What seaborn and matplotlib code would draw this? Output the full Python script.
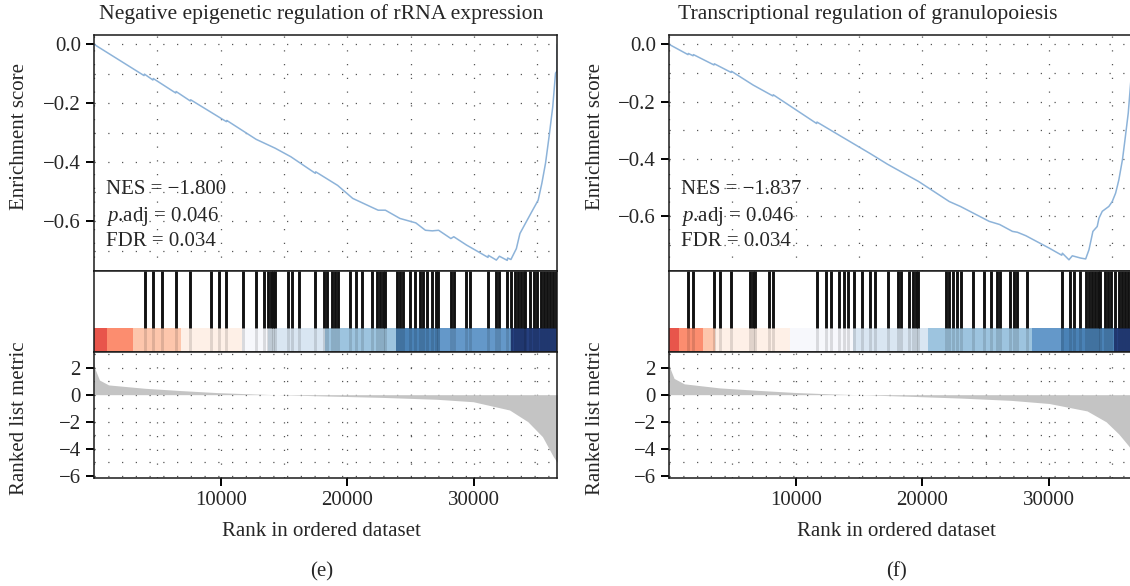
import numpy as np
import pandas as pd
import matplotlib
matplotlib.use("Agg")
import matplotlib.pyplot as plt
import seaborn as sns
from matplotlib.ticker import MultipleLocator, FixedLocator

# ---------------- data ----------------
N_GENES = 36570
titles = ["Negative epigenetic regulation of rRNA expression",
          "Transcriptional regulation of granulopoiesis"]
panel_tags = ["(e)", "(f)"]
nes_vals = ["\u22121.800", "\u22121.837"]
padj_vals = ["0.046", "0.046"]
fdr_vals = ["0.034", "0.034"]

es_rank_e = [0, 3950, 3980, 4650, 4680, 6450, 6480, 7600, 7630, 9800, 10450, 10480,
             12800, 14300, 15540, 17470, 17500, 19230, 20420, 21970, 22430, 23000,
             24150, 25400, 26160, 26700, 27200, 28170, 28400, 29400, 29890, 31100,
             31130, 31760, 32000, 32620, 32650, 32910, 33340, 33620, 33910, 34480,
             35060, 35350, 35640, 35920, 36210, 36430, 36560, 36570]
es_score_e = [0.0, -0.106, -0.101, -0.121, -0.116, -0.165, -0.160, -0.192, -0.188, -0.245,
              -0.262, -0.258, -0.322, -0.352, -0.381, -0.437, -0.432, -0.478, -0.522,
              -0.553, -0.562, -0.562, -0.590, -0.605, -0.630, -0.632, -0.630, -0.658,
              -0.652, -0.680, -0.692, -0.722, -0.715, -0.731, -0.718, -0.732, -0.724,
              -0.729, -0.692, -0.641, -0.618, -0.573, -0.528, -0.471, -0.403, -0.313,
              -0.212, -0.098, -0.090, 0.0]

es_rank_f = [0, 1500, 1530, 1900, 1930, 3550, 3580, 4900, 4930, 6640, 8200, 8230,
             11650, 11680, 13400, 15850, 17250, 18350, 19700, 22125, 23000, 25275,
             26100, 27110, 27500, 28165, 30000, 31000, 31050, 31570, 31835, 32500,
             32890, 33150, 33460, 33800, 33940, 34200, 34720, 34985, 35250, 35380,
             35510, 35800, 36000, 36250, 36450, 36570]
es_score_f = [0.0, -0.036, -0.032, -0.040, -0.036, -0.072, -0.068, -0.098, -0.094, -0.142,
              -0.180, -0.176, -0.276, -0.271, -0.316, -0.380, -0.418, -0.445, -0.478,
              -0.548, -0.565, -0.617, -0.628, -0.652, -0.655, -0.667, -0.710, -0.735,
              -0.728, -0.751, -0.737, -0.745, -0.748, -0.716, -0.652, -0.635, -0.606,
              -0.582, -0.565, -0.548, -0.519, -0.496, -0.472, -0.400, -0.330, -0.240,
              -0.130, 0.0]

hits_e = [4000, 4683, 5393, 6499, 7604, 9261, 9893, 10445, 11787, 12813, 13444,
          13750, 13950, 14150, 14300, 15312, 15628, 16207, 17470, 18150, 18380,
          18800, 19000, 19230, 20232, 20706, 21180, 21969, 22350, 22550, 22800,
          23000, 23900, 24150, 24420, 24968, 25363, 25730, 25950, 26257, 26678,
          26970, 27180, 28180, 28400, 29388, 29704, 31125, 31730, 32000, 32624,
          32950, 33200, 33450, 33700, 33950, 34050, 34440, 34700, 34970, 35250,
          35520, 35750, 35980, 36200, 36450]
hits_f = [1522, 1916, 3570, 4042, 4908, 6380, 6620, 6820, 7900, 8215, 11680, 12388,
          12782, 13412, 13780, 14120, 14593, 15223, 15853, 16247, 17270, 18100,
          18330, 18924, 19290, 19500, 19680, 21880, 22100, 22380, 22703, 23045,
          23963, 24829, 25380, 25900, 26130, 26930, 27240, 27506, 28294, 31049,
          31650, 31950, 32467, 32900, 33150, 33400, 33650, 33900, 34030, 34400,
          34650, 34880, 35180, 35510, 35750, 35990, 36220, 36450]

strip_edges_e = [0, 1030, 3080, 6870, 11680, 13730, 18230, 23840, 27310, 32910, 36570]
strip_colors_e = ["#E8554B", "#FC8D6F", "#FDC6AC", "#FEF0E7", "#F7F8FC",
                  "#D9E6F2", "#9DC4DF", "#4A82B6", "#6498C9", "#253F7E"]
strip_edges_f = [0, 790, 2700, 3620, 9530, 14510, 20420, 28690, 30920, 35120, 36570]
strip_colors_f = ["#E8554B", "#FC8D6F", "#FDC6AC", "#FEF0E7", "#F7F8FC",
                  "#D9E6F2", "#9DC4DF", "#6498C9", "#4A82B6", "#253F7E"]

metric_rank_e = [1, 60, 430, 1150, 4030, 6900, 9780, 12660, 14390, 18420, 22730,
                 27050, 29930, 32800, 34240, 35400, 36260, 36570]
metric_val_e = [2.4, 1.95, 1.08, 0.72, 0.47, 0.30, 0.15, 0.05, 0.0, -0.10, -0.20,
                -0.34, -0.52, -1.13, -1.99, -3.10, -4.58, -5.0]
metric_rank_f = [1, 60, 400, 1200, 4000, 7000, 10000, 13000, 15000, 19000, 23000,
                 27000, 30000, 33000, 34500, 35500, 36300, 36570]
metric_val_f = [2.6, 2.0, 1.2, 0.8, 0.5, 0.32, 0.16, 0.05, 0.0, -0.12, -0.25,
                -0.42, -0.65, -1.2, -2.0, -2.9, -3.8, -4.2]

es_ylims = [(-0.768, 0.0325), (-0.790, 0.0334)]
metric_ylim = (-6.15, 3.15)

# ---------------- style ----------------
sns.set_style("white")
plt.rcParams["font.family"] = ["Liberation Serif", "DejaVu Serif"]
plt.rcParams["mathtext.fontset"] = "custom"
plt.rcParams["mathtext.rm"] = "Liberation Serif"
plt.rcParams["mathtext.it"] = "Liberation Serif:italic"
plt.rcParams["axes.unicode_minus"] = True
FS = 15
LINE_COL = "#8DB3D9"
GRID_KW = dict(color="#555555", linewidth=0.9, linestyle=(0, (1, 10)))

W, H = 1130, 586
fig = plt.figure(figsize=(W / 100, H / 100), dpi=100)


def px_axes(x0, y0, x1, y1):
    return fig.add_axes([x0 / W, 1 - y1 / H, (x1 - x0) / W, (y1 - y0) / H])


def style_spines(ax):
    for s in ax.spines.values():
        s.set_color("#1a1a1a")
        s.set_linewidth(1.1)


panels = [
    dict(x0=94, es_r=es_rank_e, es_s=es_score_e, hits=hits_e, edges=strip_edges_e,
         cols=strip_colors_e, mr=metric_rank_e, mv=metric_val_e, title_x=321.5),
    dict(x0=669, es_r=es_rank_f, es_s=es_score_f, hits=hits_f, edges=strip_edges_f,
         cols=strip_colors_f, mr=metric_rank_f, mv=metric_val_f, title_x=868),
]
PW = 463.3
Y_TOP0, Y_TOP1, Y_BAR1, Y_BOT1 = 34.7, 271, 352, 478

for i, p in enumerate(panels):
    x0 = p["x0"]
    x1 = x0 + PW
    # ---- top: running enrichment score ----
    ax1 = px_axes(x0, Y_TOP0, x1, Y_TOP1)
    df = pd.DataFrame({"rank": p["es_r"], "es": p["es_s"]})
    sns.lineplot(data=df, x="rank", y="es", ax=ax1, color=LINE_COL, linewidth=1.1,
                 estimator=None, sort=False)
    ax1.set_xlim(0, N_GENES)
    ax1.set_ylim(*es_ylims[i])
    ax1.yaxis.set_major_locator(FixedLocator([0.0, -0.2, -0.4, -0.6]))
    ax1.yaxis.set_minor_locator(MultipleLocator(0.1))
    ax1.xaxis.set_minor_locator(MultipleLocator(5000))
    ax1.xaxis.set_major_locator(FixedLocator([]))
    ax1.grid(True, which="both", **GRID_KW)
    ax1.set_xlabel("")
    ax1.set_ylabel("")
    ax1.tick_params(axis="y", which="major", length=5.5, width=1.4, direction="out",
                    left=True, labelsize=FS, pad=4, color="black")
    ax1.tick_params(which="minor", length=0)
    ax1.tick_params(axis="x", which="both", bottom=False, labelbottom=False)
    ax1.yaxis.set_major_formatter(matplotlib.ticker.FuncFormatter(
        lambda v, _: f"{v:.1f}".replace("-", "\u2212") if abs(v) > 1e-9 else "0.0"))
    style_spines(ax1)
    fig.text((x0 + 12) / W, 1 - 190 / H, "NES = " + nes_vals[i], fontsize=FS,
             ha="left", va="center")
    fig.text((x0 + 12) / W, 1 - 216.5 / H, r"$p$.adj = " + padj_vals[i], fontsize=FS,
             ha="left", va="center")
    fig.text((x0 + 12) / W, 1 - 241 / H, "FDR = " + fdr_vals[i], fontsize=FS,
             ha="left", va="center")
    fig.text(p["title_x"] / W, 1 - 14 / H, titles[i], fontsize=FS + 0.6,
             ha="center", va="center")

    # ---- middle: hit barcode and colour strip ----
    ax2 = px_axes(x0, Y_TOP1, x1, Y_BAR1)
    ax2.set_xlim(0, N_GENES)
    ax2.set_ylim(0, 1)
    for a, b, c in zip(p["edges"][:-1], p["edges"][1:], p["cols"]):
        ax2.axvspan(a, b, ymin=0, ymax=0.3, color=c, lw=0)
    ax2.vlines(p["hits"], 0.3, 1.0, color="#111111", linewidth=2.1)
    ax2.vlines(p["hits"], 0.0, 0.3, color="black", alpha=0.12, linewidth=2.1)
    ax2.set_xticks([])
    ax2.set_yticks([])
    style_spines(ax2)

    # ---- bottom: ranked list metric ----
    ax3 = px_axes(x0, Y_BAR1, x1, Y_BOT1)
    ax3.fill_between(p["mr"], p["mv"], 0, color="#C4C4C4", lw=0)
    ax3.set_xlim(0, N_GENES)
    ax3.set_ylim(*metric_ylim)
    ax3.yaxis.set_major_locator(FixedLocator([2, 0, -2, -4, -6]))
    ax3.yaxis.set_minor_locator(MultipleLocator(1))
    ax3.xaxis.set_major_locator(FixedLocator([10000, 20000, 30000]))
    ax3.xaxis.set_minor_locator(MultipleLocator(5000))
    ax3.grid(True, which="both", **GRID_KW)
    ax3.tick_params(axis="both", which="major", length=5.5, width=1.4, direction="out",
                    left=True, bottom=True, labelsize=FS, pad=4, color="black")
    ax3.tick_params(which="minor", length=0)
    ax3.yaxis.set_major_formatter(matplotlib.ticker.FuncFormatter(
        lambda v, _: f"{int(v)}".replace("-", "\u2212")))
    style_spines(ax3)

    # labels
    fig.text((x0 - 74) / W, 1 - 136 / H, "Enrichment score",
             rotation=90, fontsize=FS, ha="center", va="center")
    fig.text((x0 - 74) / W, 1 - 418 / H, "Ranked list metric",
             rotation=90, fontsize=FS, ha="center", va="center")
    fig.text((x0 + PW / 2 - 4) / W, 1 - 532 / H, "Rank in ordered dataset",
             fontsize=FS, ha="center", va="center")
    fig.text((x0 + PW / 2 - 4) / W, 1 - 572 / H, panel_tags[i],
             fontsize=FS, ha="center", va="center")

fig.savefig("out.png", dpi=100)
